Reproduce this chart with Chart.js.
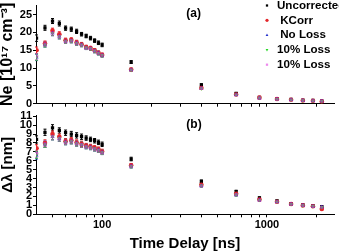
<!DOCTYPE html>
<html>
<head>
<meta charset="UTF-8">
<script src="https://cdn.jsdelivr.net/npm/chart.js"></script>
<style>
  body { margin: 0; background: #fff; width: 339px; height: 251px; overflow: hidden; position: relative; }
  .panel { position: absolute; left: 0; width: 339px; }
  #top { top: 0; height: 108px; }
  #bot { top: 108px; height: 143px; }
</style>
</head>
<body>
<div class="panel" id="top"><canvas id="neChart"></canvas></div>
<div class="panel" id="bot"><canvas id="dlChart"></canvas></div>
<script>
// time delay [ns]
const delays = [40, 45, 50, 55, 60, 65, 70, 75, 80, 85, 90, 95, 100, 150, 400, 650, 900, 1150, 1400, 1650, 1900, 2150];

// electron density [10^17 cm^-3]
const neUncorr = [18.4, 21.3, 23.2, 22.5, 21.2, 20.9, 20.3, 19.5, 19.0, 18.4, 17.7, 17.1, 16.5, 11.7, 5.3, 2.9, 1.8, 1.4, 1.2, 1.0, 0.9, 0.8];
const neKCorr  = [15.0, 16.9, 20.5, 19.5, 17.8, 17.9, 17.2, 16.7, 15.9, 15.6, 15.0, 14.3, 13.7, 9.6, 4.4, 2.6, 1.7, 1.3, 1.1, 0.9, 0.8, 0.6];
const neNoLoss = [13.0, 16.6, 19.8, 18.9, 17.5, 17.7, 17.0, 16.5, 15.7, 15.5, 14.8, 14.2, 13.6, 9.5, 4.3, 2.5, 1.6, 1.3, 1.1, 0.9, 0.8, 0.7];
const neLossA  = [13.1, 16.6, 19.8, 18.9, 17.5, 17.7, 17.0, 16.5, 15.7, 15.5, 14.8, 14.2, 13.6, 9.5, 4.3, 2.5, 1.6, 1.3, 1.1, 0.9, 0.8, 0.7];
const neLossB  = [13.2, 16.7, 19.8, 18.9, 17.5, 17.7, 17.0, 16.5, 15.7, 15.5, 14.8, 14.2, 13.6, 9.5, 4.3, 2.5, 1.6, 1.3, 1.1, 0.9, 0.8, 0.7];
const neErr    = [0.9, 0.7, 0.7, 0.7, 0.6, 0.6, 0.6, 0.5, 0.5, 0.5, 0.5, 0.5, 0.5, 0.4, 0.3, 0.2, 0.2, 0.1, 0.1, 0.1, 0.1, 0.1];

// line width [nm]
const dlUncorr = [8.4, 9.2, 9.7, 9.4, 9.15, 9.0, 8.85, 8.7, 8.55, 8.4, 8.25, 8.07, 7.85, 6.2, 3.7, 2.55, 1.85, 1.5, 1.2, 1.05, 0.95, 0.85];
const dlKCorr  = [7.4, 8.0, 9.0, 8.7, 8.2, 8.3, 8.05, 7.9, 7.7, 7.6, 7.45, 7.3, 7.05, 5.5, 3.3, 2.3, 1.65, 1.4, 1.15, 1.0, 0.9, 0.6];
const dlNoLoss = [6.6, 7.85, 8.7, 8.5, 8.1, 8.2, 7.95, 7.8, 7.6, 7.5, 7.35, 7.2, 6.95, 5.4, 3.2, 2.2, 1.6, 1.4, 1.15, 1.0, 0.9, 0.8];
const dlLossA  = [6.7, 7.85, 8.7, 8.5, 8.1, 8.2, 7.95, 7.8, 7.6, 7.5, 7.35, 7.2, 6.95, 5.4, 3.2, 2.2, 1.6, 1.4, 1.15, 1.0, 0.9, 0.8];
const dlLossB  = [6.8, 7.9, 8.7, 8.5, 8.1, 8.2, 7.95, 7.8, 7.6, 7.5, 7.35, 7.2, 6.95, 5.4, 3.2, 2.2, 1.6, 1.4, 1.15, 1.0, 0.9, 0.8];
const dlErr    = [0.4, 0.35, 0.35, 0.3, 0.3, 0.3, 0.3, 0.3, 0.25, 0.25, 0.25, 0.25, 0.25, 0.2, 0.15, 0.15, 0.1, 0.1, 0.1, 0.1, 0.1, 0.1];

const seriesNames = ['Uncorrected', ' KCorr', ' No Loss', '10% Loss', '10% Loss'];
const xTickValues = [50, 60, 70, 80, 90, 100, 200, 300, 400, 500, 600, 700, 800, 900, 1000, 2000];
const neTicks = [0, 5, 10, 15, 20, 25];
const dlTicks = [0, 1, 2, 3, 4, 5, 6, 7, 8, 9, 10, 11];

const colors = ['#000000', '#e3262a', '#2430cc', '#22d822', 'rgba(222,40,222,0.55)'];
const shapes = ['rect', 'circle', 'triangle', 'triangle', 'rect'];
const rotations = [0, 0, 0, 180, 0];
const FONT = '"Liberation Sans", Arial, sans-serif';

const errorBars = {
  id: 'errorBars',
  beforeDatasetsDraw(chart) {
    const { ctx, scales: { x, y } } = chart;
    ctx.save();
    ctx.lineWidth = 1;
    chart.data.datasets.forEach(ds => {
      ctx.strokeStyle = ds.borderColor;
      ds.data.forEach((p, j) => {
        const px = x.getPixelForValue(p.x);
        const y1 = y.getPixelForValue(p.y - ds.err[j]);
        const y2 = y.getPixelForValue(p.y + ds.err[j]);
        ctx.beginPath();
        ctx.moveTo(px, y1); ctx.lineTo(px, y2);
        ctx.moveTo(px - 1.5, y1); ctx.lineTo(px + 1.5, y1);
        ctx.moveTo(px - 1.5, y2); ctx.lineTo(px + 1.5, y2);
        ctx.stroke();
      });
    });
    ctx.restore();
  }
};

const panelLabel = {
  id: 'panelLabel',
  afterDraw(chart, args, opts) {
    if (!opts.text) return;
    const { ctx, scales: { x, y } } = chart;
    ctx.save();
    ctx.font = 'bold 12px ' + FONT;
    ctx.fillStyle = '#000';
    ctx.textBaseline = 'middle';
    ctx.fillText(opts.text, x.getPixelForValue(opts.x), y.getPixelForValue(opts.y));
    ctx.restore();
  }
};

const sideLegend = {
  id: 'sideLegend',
  afterDraw(chart, args, opts) {
    if (!opts.show) return;
    const ctx = chart.ctx;
    ctx.save();
    ctx.font = 'bold 11.6px ' + FONT;
    ctx.textBaseline = 'middle';
    chart.data.datasets.forEach((ds, i) => {
      const yy = 5.5 + i * 14.8;
      const st = { pointStyle: ds.pointStyle, rotation: ds.pointRotation, borderWidth: 0, radius: 1.6 };
      ctx.fillStyle = ds.backgroundColor;
      ctx.strokeStyle = ds.borderColor;
      Chart.helpers.drawPoint(ctx, st, 267, yy);
      ctx.fillStyle = '#000';
      ctx.fillText(ds.label, 277, yy);
    });
    ctx.restore();
  }
};

function makeChart(id, series, err, yMax, yTicks, yTitle, yTitleSize, bottom, label, labelPos, legend) {
  const datasets = series.map((vals, i) => ({
    label: seriesNames[i],
    data: delays.map((d, j) => ({ x: d, y: vals[j] })),
    err: err,
    backgroundColor: colors[i],
    borderColor: colors[i],
    borderWidth: 0,
    pointStyle: shapes[i],
    pointRotation: rotations[i],
    pointRadius: 2.3,
    order: 5 - i
  }));
  return new Chart(document.getElementById(id), {
    type: 'scatter',
    data: { datasets },
    plugins: [errorBars, panelLabel, sideLegend],
    options: {
      responsive: true,
      maintainAspectRatio: false,
      animation: false,
      layout: { padding: { top: bottom ? 7.5 : 5, right: 5, left: 0, bottom: 0 } },
      plugins: {
        legend: { display: false },
        tooltip: { enabled: false },
        panelLabel: { text: label, x: labelPos[0], y: labelPos[1] },
        sideLegend: { show: legend }
      },
      scales: {
        x: {
          type: 'logarithmic',
          min: 39.7,
          max: 2550,
          border: { color: '#000' },
          grid: { drawOnChartArea: false, tickLength: 3, color: '#000' },
          afterBuildTicks: s => { s.ticks = xTickValues.map(v => ({ value: v })); },
          ticks: {
            autoSkip: false, maxRotation: 0, padding: 1, color: '#000',
            font: { family: FONT, weight: 'bold', size: 11 },
            callback: v => bottom && (v === 100 || v === 1000) ? String(v) : ''
          },
          title: {
            display: bottom, text: 'Time Delay [ns]', color: '#000', padding: 0,
            font: { family: FONT, weight: 'bold', size: 15, lineHeight: 1 }
          },
          afterFit: s => { s.height = bottom ? 36.7 : 4.3; s.paddingLeft = 0; s.paddingRight = 0; }
        },
        y: {
          min: 0,
          max: yMax,
          border: { color: '#000' },
          grid: { drawOnChartArea: false, tickLength: 3, color: '#000' },
          afterBuildTicks: s => { s.ticks = yTicks.map(v => ({ value: v })); },
          ticks: {
            autoSkip: false, padding: 1, color: '#000',
            font: { family: FONT, weight: 'bold', size: 11 }
          },
          title: {
            display: true, text: yTitle, color: '#000', padding: 0,
            font: { family: FONT, weight: 'bold', size: yTitleSize, lineHeight: 1 }
          },
          afterFit: s => { s.width = 36; s.paddingTop = 0; s.paddingBottom = 0; }
        }
      }
    }
  });
}

makeChart('neChart', [neUncorr, neKCorr, neNoLoss, neLossA, neLossB], neErr, 27.7, neTicks,
  'Ne [10¹⁷ cm⁻³]', 16, false, '(a)', [324, 25.2], true);
makeChart('dlChart', [dlUncorr, dlKCorr, dlNoLoss, dlLossA, dlLossB], dlErr, 11.08, dlTicks,
  'Δλ [nm]', 15, true, '(b)', [324, 10], false);
</script>
</body>
</html>
